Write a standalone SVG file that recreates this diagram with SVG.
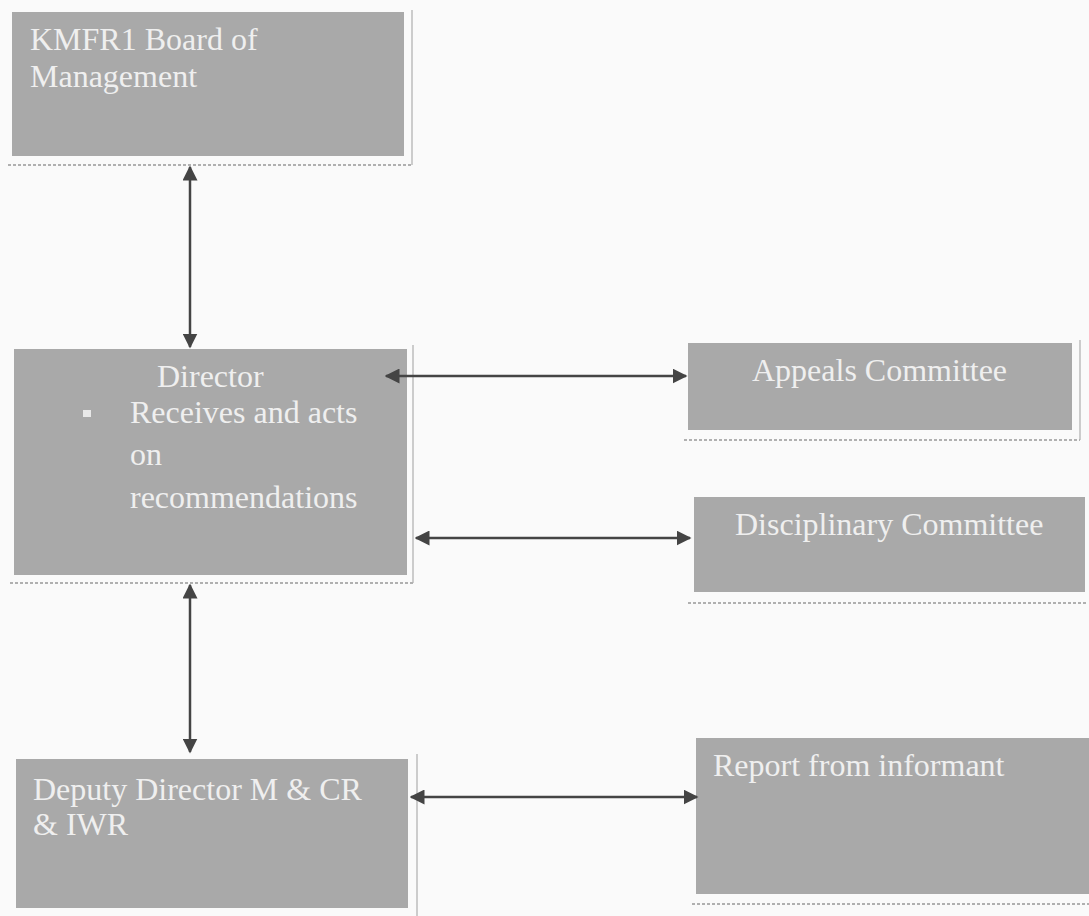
<svg xmlns="http://www.w3.org/2000/svg" width="1089" height="916" viewBox="0 0 1089 916">
<style>
.box{fill:#a9a9a9;}
.sh{fill:none;stroke:#bdbdbd;stroke-width:1.5;}
.shd{fill:none;stroke:#b0b0b0;stroke-width:2;stroke-dasharray:3 2;}
.t{font-family:"Liberation Serif",serif;font-size:32px;fill:#efefef;}
.c{stroke:#444;stroke-width:2.5;fill:none;marker-start:url(#a);marker-end:url(#a);}
</style>
<defs>
<marker id="a" viewBox="0 0 10 10" refX="9" refY="5" markerWidth="6" markerHeight="6" orient="auto-start-reverse" markerUnits="strokeWidth">
<path d="M0,0 L10,5 L0,10 z" fill="#444"/>
</marker>
</defs>
<rect width="1089" height="916" fill="#fafafa"/>
<g id="board">
<rect class="box" x="12" y="12" width="392" height="144"/>
<path class="sh" d="M412,10 V165"/><path class="shd" d="M8,165 H412"/>
<text class="t" x="30" y="50">KMFR1 Board of</text>
<text class="t" x="30" y="87">Management</text>
</g>
<g id="director">
<rect class="box" x="14" y="349" width="393" height="226"/>
<path class="sh" d="M413,345 V583"/><path class="shd" d="M10,583 H413"/>
<text class="t" x="157" y="387">Director</text>
<rect x="83" y="410" width="8" height="7" fill="#e8e8e8"/>
<text class="t" x="130" y="423">Receives and acts</text>
<text class="t" x="130" y="465">on</text>
<text class="t" x="130" y="508">recommendations</text>
</g>
<g id="appeals">
<rect class="box" x="688" y="343" width="384" height="87"/>
<path class="sh" d="M1080,340 V440"/><path class="shd" d="M684,440 H1080"/>
<text class="t" x="752" y="381">Appeals Committee</text>
</g>
<g id="disciplinary">
<rect class="box" x="694" y="497" width="391" height="95"/>
<path class="shd" d="M688,603 H1087"/>
<text class="t" x="735" y="535">Disciplinary Committee</text>
</g>
<g id="deputy">
<rect class="box" x="16" y="759" width="392" height="149"/>
<path class="sh" d="M417,754 V916"/>
<text class="t" x="33" y="800">Deputy Director M &amp; CR</text>
<text class="t" x="33" y="835">&amp; IWR</text>
</g>
<g id="report">
<rect class="box" x="696" y="738" width="393" height="156"/>
<path class="shd" d="M692,904 H1089"/>
<text class="t" x="713" y="776">Report from informant</text>
</g>
<g id="connectors">
<path class="c" d="M190,167 V347"/>
<path class="c" d="M190,585 V752"/>
<path class="c" d="M386,376 H686"/>
<path class="c" d="M416,538 H690"/>
<path class="c" d="M411,797 H697"/>
</g>
</svg>
